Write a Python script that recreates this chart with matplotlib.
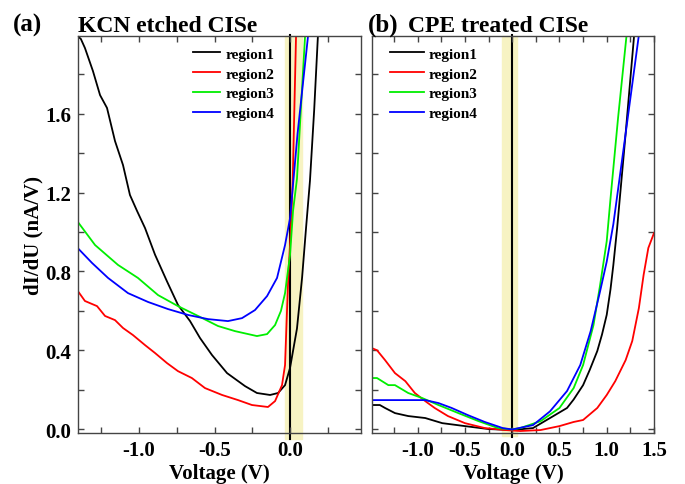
import matplotlib
matplotlib.use("Agg")
import matplotlib.pyplot as plt
from matplotlib.ticker import MultipleLocator

plt.rcParams['font.family'] = ['Liberation Serif', 'DejaVu Serif']
plt.rcParams['font.weight'] = 'bold'
plt.rcParams['axes.unicode_minus'] = False

# ---- (a) KCN etched CISe ----
kcn_v1 = [-1.4, -1.385, -1.358, -1.305, -1.258, -1.212, -1.159, -1.106, -1.06, -1.013, -0.96, -0.894,
          -0.815, -0.742, -0.662, -0.596, -0.517, -0.417, -0.298, -0.219, -0.132, -0.079,
          -0.033, 0.0, 0.046, 0.08, 0.106, 0.132, 0.16, 0.185]
kcn_i1 = [1.99, 1.98, 1.934, 1.817, 1.695, 1.63, 1.462, 1.34, 1.188, 1.107, 1.02, 0.885,
          0.75, 0.63, 0.548, 0.462, 0.376, 0.284, 0.218, 0.183, 0.173, 0.183,
          0.223, 0.31, 0.51, 0.77, 1.02, 1.26, 1.62, 2.0]

kcn_v2 = [-1.4, -1.358, -1.278, -1.225, -1.159, -1.106, -1.04, -0.96, -0.894, -0.815, -0.742,
          -0.65, -0.563, -0.45, -0.344, -0.252, -0.146, -0.099, -0.053, -0.033, -0.02,
          -0.01, 0.005, 0.018, 0.04]
kcn_i2 = [0.695, 0.65, 0.624, 0.574, 0.553, 0.513, 0.477, 0.426, 0.386, 0.335, 0.294,
          0.259, 0.208, 0.173, 0.147, 0.122, 0.112, 0.142, 0.223, 0.325, 0.6,
          0.8, 1.0, 1.27, 2.0]

kcn_v3 = [-1.4, -1.291, -1.139, -1.007, -0.874, -0.742, -0.609, -0.477, -0.364, -0.219, -0.152,
          -0.099, -0.06, -0.033, 0.0, 0.02, 0.046, 0.07, 0.1]
kcn_i3 = [1.046, 0.934, 0.833, 0.767, 0.68, 0.624, 0.574, 0.523, 0.497, 0.472, 0.482,
          0.528, 0.6, 0.69, 0.883, 1.107, 1.27, 1.6, 2.0]

kcn_v4 = [-1.4, -1.311, -1.205, -1.073, -0.94, -0.808, -0.675, -0.543, -0.411, -0.318, -0.232,
          -0.152, -0.086, -0.033, 0.0, 0.05, 0.085, 0.12]
kcn_i4 = [0.914, 0.843, 0.767, 0.69, 0.645, 0.609, 0.579, 0.558, 0.548, 0.563, 0.604,
          0.675, 0.767, 0.934, 1.07, 1.5, 1.75, 2.0]

# ---- (b) CPE treated CISe ----
cpe_v1 = [-1.48, -1.4, -1.345, -1.24, -1.1, -0.92, -0.74, -0.5, -0.25, 0.0, 0.22, 0.4,
          0.58, 0.65, 0.75, 0.82, 0.9, 0.95, 1.0, 1.04, 1.07, 1.11, 1.2, 1.29]
cpe_i1 = [0.122, 0.122, 0.107, 0.081, 0.066, 0.056, 0.03, 0.015, 0.0, -0.005, 0.005, 0.056,
          0.107, 0.15, 0.223, 0.3, 0.396, 0.48, 0.58, 0.71, 0.833, 1.02, 1.5, 2.0]

cpe_v2 = [-1.48, -1.43, -1.345, -1.24, -1.13, -1.03, -0.92, -0.82, -0.68, -0.5, -0.29, -0.07,
          0.085, 0.3, 0.5, 0.65, 0.75, 0.9, 1.0, 1.09, 1.2, 1.27, 1.34, 1.39, 1.44, 1.5]
cpe_i2 = [0.41, 0.40, 0.35, 0.284, 0.243, 0.183, 0.142, 0.107, 0.066, 0.03, 0.005, -0.005,
          -0.01, -0.005, 0.015, 0.036, 0.046, 0.107, 0.173, 0.243, 0.35, 0.447, 0.614, 0.782,
          0.919, 0.995]

cpe_v3 = [-1.48, -1.43, -1.31, -1.24, -1.1, -0.95, -0.78, -0.57, -0.36, -0.15, 0.0, 0.085,
          0.3, 0.5, 0.65, 0.75, 0.86, 0.93, 1.0, 1.04, 1.12, 1.21]
cpe_i3 = [0.259, 0.259, 0.223, 0.223, 0.183, 0.157, 0.122, 0.081, 0.041, 0.005, -0.002, 0.005,
          0.04, 0.107, 0.208, 0.325, 0.528, 0.731, 0.954, 1.17, 1.58, 2.0]

cpe_v4 = [-1.48, -1.345, -1.1, -0.92, -0.78, -0.64, -0.47, -0.29, -0.1, 0.0, 0.22, 0.4,
          0.58, 0.72, 0.83, 0.93, 1.0, 1.07, 1.2, 1.34]
cpe_i4 = [0.147, 0.147, 0.147, 0.147, 0.132, 0.107, 0.071, 0.036, 0.005, -0.002, 0.02, 0.09,
          0.193, 0.325, 0.497, 0.70, 0.85, 1.04, 1.5, 2.0]

labels = ['region1', 'region2', 'region3', 'region4']
colors = ['black', 'red', '#00ee00', 'blue']
band_a = (-0.03, 0.08)
band_b = (-0.11, 0.05)

fig = plt.figure(figsize=(6.85, 4.85), dpi=100)
W, H = 685.0, 485.0
ax1 = fig.add_axes([78 / W, 51 / H, 283 / W, 397 / H])
ax2 = fig.add_axes([372 / W, 51 / H, 282 / W, 397 / H])


def style(ax, xlim, xmajor):
    ax.set_xlim(*xlim)
    ax.set_ylim(-0.02, 1.995)
    ax.xaxis.set_major_locator(MultipleLocator(xmajor))
    ax.xaxis.set_minor_locator(MultipleLocator(xmajor / 2))
    ax.yaxis.set_major_locator(MultipleLocator(0.4))
    ax.yaxis.set_minor_locator(MultipleLocator(0.2))
    ax.tick_params(which='both', direction='in', top=True, right=True,
                   labelsize=15, width=1.0, color='#444444', pad=5, length=4)
    for s in ax.spines.values():
        s.set_linewidth(1.0)
        s.set_color('#444444')
    ax.set_xlabel('Voltage (V)', fontsize=15, fontweight='bold', labelpad=2)
    for t in ax.get_xticklabels() + ax.get_yticklabels():
        t.set_fontweight('bold')


# panel a
ax1.axvspan(band_a[0], band_a[1], ymin=-0.015, ymax=1.0, color='#f7f3c3', zorder=0, clip_on=False)
ax1.plot([0, 0], [-0.05, 2.0], color='black', lw=1.5, zorder=1, clip_on=False)
a_data = [(kcn_v1, kcn_i1), (kcn_v2, kcn_i2), (kcn_v3, kcn_i3), (kcn_v4, kcn_i4)]
for (v, i), c, lab in zip(a_data, colors, labels):
    ax1.plot(v, i, color=c, lw=1.3, label=lab, zorder=2)
style(ax1, (-1.404, 0.47), 0.5)
ax1.set_ylabel('dI/dU (nA/V)', fontsize=15, fontweight='bold', labelpad=1)
ax1.legend(loc='upper left', bbox_to_anchor=(0.406, 0.972), frameon=False,
           prop={'size': 11, 'weight': 'bold'}, handlelength=1.8, handletextpad=0.35,
           labelspacing=0.4, borderpad=0, borderaxespad=0)

# panel b
ax2.axvspan(band_b[0], band_b[1], ymin=-0.008, ymax=1.0, color='#f7f3c3', zorder=0, clip_on=False)
ax2.plot([0, 0], [-0.04, 2.0], color='black', lw=1.5, zorder=1, clip_on=False)
b_data = [(cpe_v1, cpe_i1), (cpe_v2, cpe_i2), (cpe_v3, cpe_i3), (cpe_v4, cpe_i4)]
for (v, i), c, lab in zip(b_data, colors, labels):
    ax2.plot(v, i, color=c, lw=1.3, label=lab, zorder=2)
style(ax2, (-1.483, 1.5), 0.5)
ax2.set_yticklabels([])
ax2.legend(loc='upper left', bbox_to_anchor=(0.064, 0.972), frameon=False,
           prop={'size': 11, 'weight': 'bold'}, handlelength=2.2, handletextpad=0.35,
           labelspacing=0.4, borderpad=0, borderaxespad=0)

fig.text(13 / W, 1 - 32 / H, '(a)', fontsize=18, fontweight='bold', va='baseline')
fig.text(78 / W, 1 - 32 / H, 'KCN etched CISe', fontsize=17, fontweight='bold', va='baseline')
fig.text(368 / W, 1 - 32 / H, '(b)', fontsize=18, fontweight='bold', va='baseline')
fig.text(408 / W, 1 - 32 / H, 'CPE treated CISe', fontsize=17, fontweight='bold', va='baseline')

fig.savefig('out.png', dpi=100)
